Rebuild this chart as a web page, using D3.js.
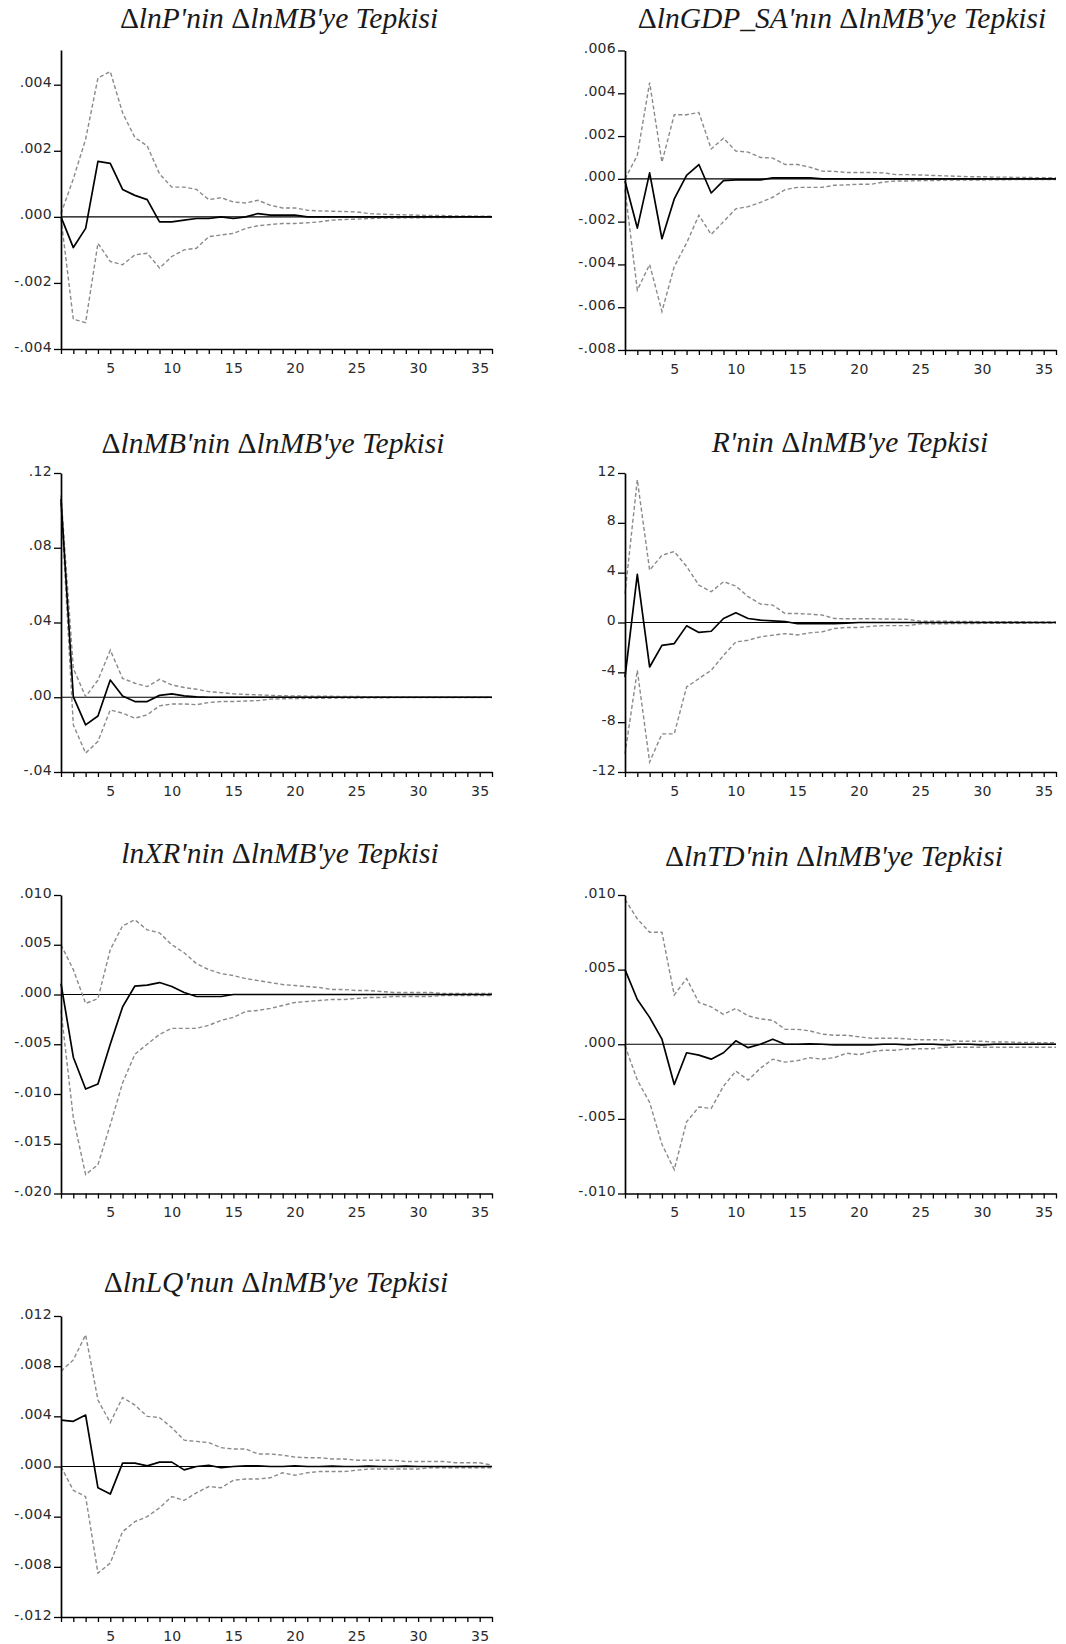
<!DOCTYPE html>
<html><head><meta charset="utf-8">
<script src="https://cdn.jsdelivr.net/npm/d3@7"></script>
<style>body{margin:0;background:#fff}</style></head><body>
<svg id="c" width="1066" height="1644"></svg>
<script>
const periods = d3.range(1, 37);

// Panel 1: ΔlnP
const respP = [0, -.00093, -.00035, .00168, .00162, .00083, .00065, .00052, -.00015, -.00015, -.0001, -.00005, -.00005, 0, -.00005, 0, .0001, .00005, .00005, .00005, 0, 0, 0, 0, 0, 0, 0, 0, 0, 0, 0, 0, 0, 0, 0, 0];
const upperP = [.0001, .00115, .00235, .0042, .0044, .00315, .0024, .00215, .0013, .0009, .0009, .00083, .00052, .00058, .00045, .00042, .0005, .00035, .00027, .00027, .0002, .00018, .00017, .00016, .00015, .0001, .00008, .00007, .00006, .00005, .00004, .00004, .00003, .00003, .00002, .00002];
const lowerP = [-.00005, -.0031, -.0032, -.0008, -.00135, -.00145, -.00115, -.0011, -.00155, -.0012, -.001, -.00095, -.0006, -.00055, -.0005, -.00035, -.00027, -.00023, -.0002, -.0002, -.00018, -.00015, -.0001, -.00008, -.00007, -.00005, -.00004, -.00004, -.00003, -.00003, -.00002, -.00002, -.00002, -.00001, -.00001, -.00001];
const ticksP = [-.004, -.002, 0, .002, .004];
const labelsP = ["-.004", "-.002", ".000", ".002", ".004"];

// Panel 2: ΔlnGDP_SA
const respGDP = [-.0001, -.0023, .00028, -.0028, -.00094, .00016, .00067, -.00066, -.00008, -.00005, -.00005, -.00005, .00005, .00005, .00005, .00005, 0, 0, 0, 0, 0, 0, 0, 0, 0, 0, 0, 0, 0, 0, 0, 0, 0, 0, 0, 0];
const upperGDP = [0, .0011, .0045, .00078, .003, .003, .0031, .0014, .0019, .0013, .00125, .001, .00097, .00067, .00067, .00055, .00036, .00035, .0003, .0003, .0003, .00028, .0002, .0002, .00018, .00016, .00014, .00012, .0001, .0001, .00008, .00008, .00006, .00006, .00005, .00005];
const lowerGDP = [-.0005, -.0052, -.004, -.0062, -.0041, -.003, -.0017, -.0026, -.002, -.0014, -.0013, -.0011, -.00086, -.0005, -.0004, -.0004, -.0004, -.0003, -.00028, -.00025, -.00025, -.00015, -.0001, -.0001, -.00008, -.00008, -.00006, -.00006, -.00005, -.00005, -.00004, -.00004, -.00003, -.00003, -.00003, -.00003];
const ticksGDP = [-.008, -.006, -.004, -.002, 0, .002, .004, .006];
const labelsGDP = ["-.008", "-.006", "-.004", "-.002", ".000", ".002", ".004", ".006"];

// Panel 3: ΔlnMB
const respMB = [.106, .0003, -.0148, -.01, .0092, .0007, -.0023, -.0023, .001, .0018, .0007, .0002, 0, 0, 0, 0, 0, 0, 0, 0, 0, 0, 0, 0, 0, 0, 0, 0, 0, 0, 0, 0, 0, 0, 0, 0];
const upperMB = [.108, .0155, .0003, .0092, .0252, .0101, .0075, .0057, .0096, .0066, .0052, .0043, .003, .0025, .0018, .0015, .0013, .001, .0008, .0007, .0006, .0005, .0005, .0004, .0004, .0003, .0003, .0002, .0002, .0001, .0001, .0001, .0001, .0001, .0001, .0001];
const lowerMB = [.104, -.0148, -.0299, -.0236, -.0068, -.0085, -.0112, -.0094, -.0046, -.0036, -.0036, -.004, -.0028, -.0023, -.0023, -.002, -.0018, -.001, -.0008, -.0007, -.0006, -.0005, -.0005, -.0004, -.0004, -.0003, -.0003, -.0002, -.0002, -.0001, -.0001, -.0001, -.0001, -.0001, -.0001, -.0001];
const ticksMB = [-.04, 0, .04, .08, .12];
const labelsMB = ["-.04", ".00", ".04", ".08", ".12"];

// Panel 4: R
const respR = [-4.38, 3.87, -3.57, -1.83, -1.69, -0.27, -0.8, -0.7, 0.32, 0.78, 0.32, 0.19, 0.13, 0.08, -0.1, -0.1, -0.1, -0.1, -0.05, 0, 0, 0, 0, 0, 0, 0, 0, 0, 0, 0, 0, 0, 0, 0, 0, 0];
const upperR = [2.3, 11.46, 4.2, 5.4, 5.7, 4.5, 3.0, 2.47, 3.27, 2.93, 2.07, 1.48, 1.4, 0.72, 0.72, 0.67, 0.6, 0.32, 0.3, 0.3, 0.3, 0.28, 0.27, 0.25, 0.1, 0.1, 0.1, 0.08, 0.08, 0.07, 0.07, 0.06, 0.06, 0.05, 0.05, 0.05];
const lowerR = [-10.55, -3.84, -11.2, -8.94, -8.94, -5.18, -4.5, -3.84, -2.63, -1.56, -1.42, -1.15, -1.02, -0.89, -1.0, -0.83, -0.75, -0.48, -0.4, -0.4, -0.3, -0.25, -0.25, -0.25, -0.1, -0.1, -0.1, -0.08, -0.08, -0.07, -0.07, -0.06, -0.06, -0.05, -0.05, -0.05];
const ticksR = [-12, -8, -4, 0, 4, 8, 12];
const labelsR = ["-12", "-8", "-4", "0", "4", "8", "12"];

// Panel 5: lnXR
const respXR = [.0011, -.0063, -.0095, -.009, -.005, -.00125, .00085, .00095, .0012, .0008, .0002, -.0002, -.0002, -.0002, 0, 0, 0, 0, 0, 0, 0, 0, 0, 0, 0, 0, 0, 0, 0, 0, 0, 0, 0, 0, 0, 0];
const upperXR = [.005, .0025, -.0009, -.0004, .0045, .0069, .0075, .0065, .0062, .005, .0042, .0031, .0025, .0021, .0019, .0016, .0014, .0012, .001, .0009, .0008, .0007, .0005, .0005, .0004, .0004, .0003, .0002, .0002, .0002, .0002, .0001, .0001, .0001, .0001, .0001];
const lowerXR = [-.0016, -.0124, -.0181, -.0171, -.0131, -.0089, -.006, -.005, -.004, -.0034, -.0034, -.0034, -.0031, -.0026, -.0023, -.0017, -.0016, -.0014, -.0011, -.0008, -.0007, -.0006, -.0005, -.0005, -.0004, -.0003, -.0003, -.0002, -.0002, -.0002, -.0002, -.0001, -.0001, -.0001, -.0001, -.0001];
const ticksXR = [-.02, -.015, -.01, -.005, 0, .005, .01];
const labelsXR = ["-.020", "-.015", "-.010", "-.005", ".000", ".005", ".010"];

// Panel 6: ΔlnTD
const respTD = [.005, .003, .0018, .00034, -.0027, -.00057, -.00073, -.001, -.00057, .00023, -.00023, 0, .00034, 0, 0, .00003, 0, -.00005, -.00005, -.00005, -.00005, 0, 0, -.00005, 0, 0, -.00005, 0, 0, -.00005, 0, 0, 0, 0, 0, 0];
const upperTD = [.0097, .0084, .0075, .0075, .0033, .0044, .0028, .0025, .002, .0024, .0019, .0017, .0016, .001, .001, .0009, .00068, .0006, .0006, .0005, .0004, .0004, .0004, .00035, .0003, .0003, .0003, .0002, .0002, .0002, .00015, .00015, .00012, .00012, .0001, .0001];
const lowerTD = [-.0001, -.0024, -.0039, -.0067, -.0084, -.0052, -.0042, -.0043, -.0028, -.0018, -.0024, -.0016, -.001, -.0012, -.0011, -.0009, -.001, -.0009, -.0006, -.0007, -.0005, -.0004, -.0004, -.0003, -.0003, -.0003, -.0002, -.0002, -.0002, -.0002, -.0002, -.0002, -.0002, -.0002, -.0002, -.0002];
const ticksTD = [-.01, -.005, 0, .005, .01];
const labelsTD = ["-.010", "-.005", ".000", ".005", ".010"];

// Panel 7: ΔlnLQ
const respLQ = [.0037, .0036, .0041, -.0017, -.0022, .00027, .00027, .00005, .00035, .00035, -.00027, 0, .0001, -.0001, 0, .00005, .00005, 0, 0, .00005, 0, 0, .00003, 0, 0, .00003, 0, 0, .00003, 0, 0, 0, 0, 0, 0, 0];
const upperLQ = [.0076, .0085, .0105, .0053, .0035, .0055, .0049, .004, .0039, .0031, .0021, .002, .0019, .0015, .0014, .0014, .001, .001, .0009, .00075, .0007, .0007, .0006, .0006, .0005, .0005, .0005, .0005, .0004, .0004, .0004, .0004, .0003, .0003, .0003, .0001];
const lowerLQ = [0, -.0019, -.0024, -.0085, -.0077, -.0052, -.0044, -.004, -.0033, -.0024, -.0027, -.0021, -.0016, -.0017, -.0011, -.001, -.001, -.0009, -.0005, -.0007, -.0005, -.0004, -.0004, -.0004, -.0003, -.0002, -.0002, -.0002, -.0002, -.0002, -.0001, -.0001, -.0001, -.0001, -.0001, -.0001];
const ticksLQ = [-.012, -.008, -.004, 0, .004, .008, .012];
const labelsLQ = ["-.012", "-.008", "-.004", ".000", ".004", ".008", ".012"];

const titles = [
  "ΔlnP'nin ΔlnMB'ye Tepkisi",
  "ΔlnGDP_SA'nın ΔlnMB'ye Tepkisi",
  "ΔlnMB'nin ΔlnMB'ye Tepkisi",
  "R'nin ΔlnMB'ye Tepkisi",
  "lnXR'nin ΔlnMB'ye Tepkisi",
  "ΔlnTD'nin ΔlnMB'ye Tepkisi",
  "ΔlnLQ'nun ΔlnMB'ye Tepkisi"
];

// layout (positions only)
const cols = [{x0: 61, x1: 492}, {x0: 625, x1: 1056}];
const panels = [
  {resp: respP, up: upperP, lo: lowerP, ticks: ticksP, labels: labelsP, dom: [-.004, .00505], col: 0, top: 50, bot: 349, tx: 279, ty: 28},
  {resp: respGDP, up: upperGDP, lo: lowerGDP, ticks: ticksGDP, labels: labelsGDP, dom: [-.008, .006], col: 1, top: 50.5, bot: 350, tx: 842, ty: 28},
  {resp: respMB, up: upperMB, lo: lowerMB, ticks: ticksMB, labels: labelsMB, dom: [-.04, .12], col: 0, top: 473, bot: 772, tx: 273, ty: 453},
  {resp: respR, up: upperR, lo: lowerR, ticks: ticksR, labels: labelsR, dom: [-12, 12], col: 1, top: 473, bot: 772, tx: 850, ty: 452},
  {resp: respXR, up: upperXR, lo: lowerXR, ticks: ticksXR, labels: labelsXR, dom: [-.02, .01], col: 0, top: 895, bot: 1193.5, tx: 280, ty: 863},
  {resp: respTD, up: upperTD, lo: lowerTD, ticks: ticksTD, labels: labelsTD, dom: [-.01, .01], col: 1, top: 895, bot: 1193.5, tx: 834, ty: 866},
  {resp: respLQ, up: upperLQ, lo: lowerLQ, ticks: ticksLQ, labels: labelsLQ, dom: [-.012, .012], col: 0, top: 1316, bot: 1617, tx: 276, ty: 1292}
];

const svg = d3.select("#c");
const labelFont = "'DejaVu Sans', Verdana, sans-serif";

panels.forEach((p, i) => {
  const c = cols[p.col];
  const x = d3.scaleLinear().domain([1, 36]).range([c.x0, c.x1]);
  const y = d3.scaleLinear().domain(p.dom).range([p.bot, p.top]);
  const g = svg.append("g");

  // title
  const t = g.append("text").attr("x", p.tx).attr("y", p.ty).attr("text-anchor", "middle")
    .attr("font-family", "'Liberation Serif', 'Times New Roman', serif").attr("font-size", 29.5)
    .attr("fill", "#1a1a1a");
  titles[i].split(/(Δ)/).filter(s => s.length).forEach(s => {
    t.append("tspan").text(s).attr("font-style", s === "Δ" ? "normal" : "italic");
  });

  // zero line
  g.append("line").attr("x1", x(1)).attr("x2", x(36)).attr("y1", y(0)).attr("y2", y(0))
    .attr("stroke", "#000").attr("stroke-width", 1.2);

  const line = d3.line().x((d, k) => x(periods[k])).y(d => y(d));
  g.append("path").datum(p.up).attr("d", line).attr("fill", "none")
    .attr("stroke", "#8a8a8a").attr("stroke-width", 1.4).attr("stroke-dasharray", "4,2.5");
  g.append("path").datum(p.lo).attr("d", line).attr("fill", "none")
    .attr("stroke", "#8a8a8a").attr("stroke-width", 1.4).attr("stroke-dasharray", "4,2.5");
  g.append("path").datum(p.resp).attr("d", line).attr("fill", "none")
    .attr("stroke", "#000").attr("stroke-width", 1.7).attr("stroke-linejoin", "round");

  // y axis
  const ya = g.append("g").attr("transform", `translate(${c.x0},0)`)
    .call(d3.axisLeft(y).tickValues(p.ticks).tickFormat((d, k) => p.labels[k]).tickSize(7).tickPadding(2).tickSizeOuter(0));
  // x axis
  const xa = g.append("g").attr("transform", `translate(0,${p.bot})`)
    .call(d3.axisBottom(x).tickValues(periods).tickFormat(d => d % 5 === 0 ? d : "").tickSize(5).tickPadding(9).tickSizeOuter(0));
  [ya, xa].forEach(a => {
    a.select(".domain").attr("stroke", "#000").attr("stroke-width", 1.7);
    a.selectAll(".tick line").attr("stroke", "#000").attr("stroke-width", 1.3);
    a.selectAll("text").attr("font-family", labelFont).attr("font-size", 14).attr("fill", "#2a2a2a").attr("letter-spacing", "0.3px");
  });
  ya.selectAll("text").attr("dy", "0.15em");
});
</script></body></html>
